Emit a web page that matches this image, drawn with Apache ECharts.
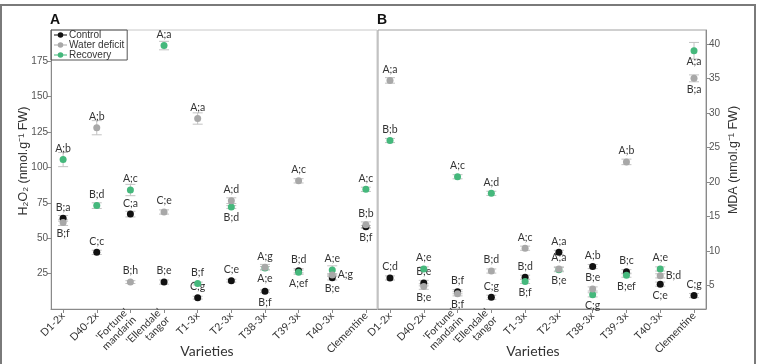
<!DOCTYPE html>
<html><head><meta charset="utf-8">
<script src="https://cdn.jsdelivr.net/npm/echarts@6/dist/echarts.min.js"></script>
<style>html,body{margin:0;padding:0;background:#fff}#c{width:760px;height:364px}</style>
</head><body><div id="c"></div>
<script>
const categories = ["D1-2x","D40-2x","'Fortune'\nmandarin","'Ellendale'\ntangor","T1-3x","T2-3x","T38-3x","T39-3x","T40-3x","Clementine"];
const h2o2Ticks = [25,50,75,100,125,150,175];
const mdaTicks = [5,10,15,20,25,30,35,40];

const h2o2Control = [64, 40, 67, 19, 8, 20, 12.5, 27, 22, 58];
const h2o2WaterDeficit = [61, 128, 19, 68.5, 134.5, 76.5, 29.5, 90.5, 24, 59.5];
const h2o2Recovery = [105.5, 73, 84, 186, 18, 72, 29, 26, 27.5, 84.5];
const h2o2ControlErr = [2, 1.5, 2, 1.5, 1, 1, 1, 1.5, 1.5, 1];
const h2o2WaterDeficitErr = [2, 5, 1, 1.5, 4, 2, 2, 1.5, 1, 2];
const h2o2RecoveryErr = [5, 2, 4, 3, 1, 1, 1, 1.5, 3, 1.5];
const h2o2ControlLabels = ["B;a","C;c","C;a","B;e","C;g","C;e","B;f","B;d","B;e","B;f"];
const h2o2WaterDeficitLabels = ["B;f","A;b","B;h","C;e","A;a","A;d","A;g","A;c","A;g","B;b"];
const h2o2RecoveryLabels = ["A;b","B;d","A;c","A;a","B;f","B;d","A;e","A;ef","A;e","A;c"];

const mdaControl = [6.1, 5.35, 4.1, 3.3, 6.2, 9.8, 7.75, 7.0, 5.2, 3.55];
const mdaWaterDeficit = [34.7, 4.85, 3.8, 7.1, 10.4, 7.4, 4.5, 22.9, 6.4, 35.0];
const mdaRecovery = [26.0, 7.4, 20.75, 18.35, 5.6, 7.3, 3.65, 6.5, 7.4, 39.0];
const mdaControlErr = [0.3,0.4,0.3,0.3,0.3,0.3,0.3,0.3,0.3,0.3];
const mdaWaterDeficitErr = [0.4,0.4,0.3,0.3,0.3,0.3,0.3,0.4,0.3,0.5];
const mdaRecoveryErr = [0.3,0.3,0.3,0.3,0.3,0.3,0.3,0.3,0.3,1.2];
const mdaControlLabels = ["C;d","B;e","B;f","C;g","B;d","A;a","A;b","B;c","C;e","C;g"];
const mdaWaterDeficitLabels = ["A;a","B;e","B;f","B;d","A;c","A;a","B;e","A;b","B;d","B;a"];
const mdaRecoveryLabels = ["B;b","A;e","A;c","A;d","B;f","B;e","C;g","B;ef","A;e","A;a"];

// label placement (style)
const posAC = ['top','top','top','top','top','top','bottom','top','bottom','bottom'];
const posAW = ['bottom','top','top','top','top','top','top','top','right','top'];
const posAR = ['top','top','top','top','top','bottom','bottom','bottom','top','top'];
const posBC = ['top','top','top','top','top','top','top','top','bottom','top'];
const posBW = ['top','bottom','bottom','top','top','top','top','top','right','bottom'];
const posBR = ['top','top','top','top','bottom','bottom','bottom','bottom','top','bottom'];

const COL = {c:'#111111', w:'#a8a8a8', r:'#45b87c'};
const idx = categories.map((_, i) => i);

function errorRenderItem(params, api) {
  const x = api.value(0), y = api.value(1), e = api.value(2);
  const hi = api.coord([x, y + e]);
  const lo = api.coord([x, y - e]);
  const hw = 5;
  const style = {stroke: '#c2c2c2', lineWidth: 1, fill: null};
  return {type:'group', children:[
    {type:'line', shape:{x1:hi[0], y1:hi[1], x2:lo[0], y2:lo[1]}, style},
    {type:'line', shape:{x1:hi[0]-hw, y1:hi[1], x2:hi[0]+hw, y2:hi[1]}, style},
    {type:'line', shape:{x1:lo[0]-hw, y1:lo[1], x2:lo[0]+hw, y2:lo[1]}, style}
  ]};
}
function errSeries(name, values, errs, gi) {
  return {type:'custom', name:name, xAxisIndex:gi, yAxisIndex:gi, z:1, silent:true,
    renderItem:errorRenderItem, encode:{x:0, y:1},
    data: values.map((v,i)=>[i, v, errs[i]])};
}
function pointSeries(name, color, values, labels, positions, gi, z) {
  return {type:'scatter', name:name, xAxisIndex:gi, yAxisIndex:gi, z:z,
    symbol:'circle', symbolSize:7, itemStyle:{color:color, opacity:1},
    emphasis:{disabled:true},
    label:{show:true, fontFamily:'Lato', fontSize:10.5, color:'#333', distance:2},
    data: values.map((v,i)=>({value:[i, v], label:{position:positions[i], formatter:labels[i]}}))};
}
function xAx(gi, min, max) {
  return {gridIndex:gi, type:'value', min:min, max:max,
    axisLine:{show:true, onZero:false, lineStyle:{color:'#8a8a8a'}},
    axisTick:{show:true, customValues:idx, length:4, lineStyle:{color:'#8a8a8a'}},
    axisLabel:{customValues:idx, rotate:45, formatter:v=>categories[Math.round(v)],
      fontFamily:'Lato', fontSize:10.5, color:'#333', margin:5, lineHeight:11},
    splitLine:{show:false}};
}
function yAx(gi, min, max, ticks, pos) {
  return {gridIndex:gi, type:'value', min:min, max:max, position:pos,
    axisLine:{show:true, onZero:false, lineStyle:{color:'#8a8a8a'}},
    axisTick:{show:true, customValues:ticks, length:4, lineStyle:{color:'#8a8a8a'}},
    axisLabel:{customValues:ticks, fontFamily:'Liberation Sans', fontSize:10, color:'#555', margin:3},
    splitLine:{show:false}};
}

const chart = echarts.init(document.getElementById('c'), null, {renderer:'canvas'});
chart.setOption({
  animation:false,
  backgroundColor:'#fff',
  grid:[
    {left:51, top:30, width:326, height:279, show:true, borderColor:'#c8c8c8', borderWidth:1},
    {left:378, top:30, width:328, height:279, show:true, borderColor:'#a0a0a0', borderWidth:1}
  ],
  xAxis:[xAx(0, -0.36, 9.33), xAx(1, -0.355, 9.355)],
  yAxis:[yAx(0, 0, 197, h2o2Ticks, 'left'), yAx(1, 1.6, 42, mdaTicks, 'right')],
  legend:{
    data:[
      {name:'Control', icon:'path://M0,3L14,3L14,4L0,4Z M10,3.5A3,3,0,1,1,4,3.5A3,3,0,1,1,10,3.5Z'},
      {name:'Water deficit', icon:'path://M0,3L14,3L14,4L0,4Z M10,3.5A3,3,0,1,1,4,3.5A3,3,0,1,1,10,3.5Z'},
      {name:'Recovery', icon:'path://M0,3L14,3L14,4L0,4Z M10,3.5A3,3,0,1,1,4,3.5A3,3,0,1,1,10,3.5Z'}
    ],
    orient:'vertical', left:51, top:30, itemGap:0, itemWidth:13, itemHeight:6,
    padding:[0,3,0,3], borderColor:'#555', borderWidth:1,
    textStyle:{fontFamily:'Liberation Sans', fontSize:10, color:'#333', padding:[0,0,0,-3]},
    selectedMode:false
  },
  series:[
    errSeries('errAC', h2o2Control, h2o2ControlErr, 0),
    errSeries('errAW', h2o2WaterDeficit, h2o2WaterDeficitErr, 0),
    errSeries('errAR', h2o2Recovery, h2o2RecoveryErr, 0),
    errSeries('errBC', mdaControl, mdaControlErr, 1),
    errSeries('errBW', mdaWaterDeficit, mdaWaterDeficitErr, 1),
    errSeries('errBR', mdaRecovery, mdaRecoveryErr, 1),
    pointSeries('Control', COL.c, h2o2Control, h2o2ControlLabels, posAC, 0, 3),
    pointSeries('Recovery', COL.r, h2o2Recovery, h2o2RecoveryLabels, posAR, 0, 4),
    pointSeries('Water deficit', COL.w, h2o2WaterDeficit, h2o2WaterDeficitLabels, posAW, 0, 5),
    pointSeries('Control', COL.c, mdaControl, mdaControlLabels, posBC, 1, 3),
    pointSeries('Recovery', COL.r, mdaRecovery, mdaRecoveryLabels, posBR, 1, 4),
    pointSeries('Water deficit', COL.w, mdaWaterDeficit, mdaWaterDeficitLabels, posBW, 1, 5)
  ],
  graphic:[
    {type:'rect', shape:{x:1, y:5, width:754, height:362}, style:{fill:null, stroke:'#7a7a7a', lineWidth:2}, silent:true},
    {type:'text', x:50, y:13, style:{text:'A', font:'bold 14px "Liberation Sans"', fill:'#111'}},
    {type:'text', x:377, y:13, style:{text:'B', font:'bold 14px "Liberation Sans"', fill:'#111'}},
    {type:'text', x:24, y:161, rotation:Math.PI/2, style:{text:'H₂O₂ (nmol.g⁻¹ FW)', font:'12.5px "Liberation Sans"', fill:'#333', align:'center', verticalAlign:'middle'}},
    {type:'text', x:734, y:160, rotation:Math.PI/2, style:{text:'MDA (nmol.g⁻¹ FW)', font:'12.5px "Liberation Sans"', fill:'#333', align:'center', verticalAlign:'middle'}},
    {type:'text', x:207, y:351, style:{text:'Varieties', font:'14px Lato', fill:'#333', align:'center', verticalAlign:'middle'}},
    {type:'text', x:533, y:351, style:{text:'Varieties', font:'14px Lato', fill:'#333', align:'center', verticalAlign:'middle'}}
  ]
});
</script></body></html>
